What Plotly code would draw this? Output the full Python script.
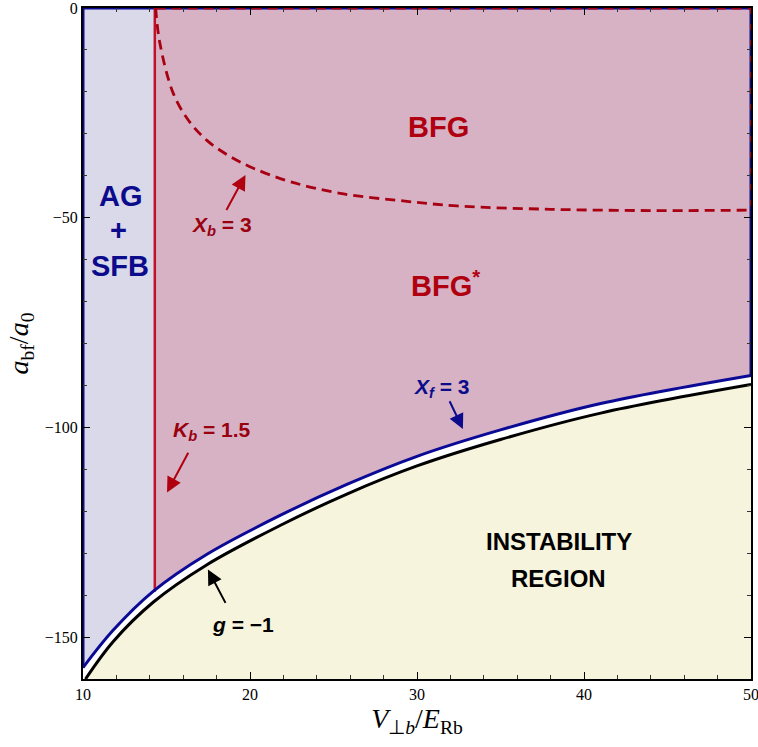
import plotly.graph_objects as go

# ---- axis ranges / ticks ----
X_MIN, X_MAX = 10, 50
Y_MIN, Y_MAX = -160, 0
x_major = [10, 20, 30, 40, 50]
x_major_text = ["10", "20", "30", "40", "50"]
y_major = [-150, -100, -50, 0]
y_major_text = ["\u2212150", "\u2212100", "\u221250", "0"]

# ---- curves ----
# X_f = 3 (blue)
xf_x = [10, 11.8, 14.2, 17.4, 21.8, 25.8, 30, 35, 41, 50]
xf_y = [-157.3, -148.4, -139.1, -130.3, -121.0, -113.6, -106.9, -100.6, -94.3, -87.6]
# g = -1 (black)
g_x = [10.15, 11.8, 14.2, 17.4, 21.8, 25.8, 30, 35, 41, 50]
g_y = [-160, -151.1, -141.7, -132.8, -123.4, -115.9, -109.2, -102.9, -96.6, -89.8]
# X_b = 3 (red dashed)
xb_x = [14.35, 14.6, 15.4, 16.3, 17.4, 18.8, 20.2, 22.4, 25.4, 29.4, 32.4, 38, 44, 50]
xb_y = [0, -8.3, -20.3, -26.7, -31.5, -35.4, -38.2, -41.4, -44.2, -46.1, -47.2, -48.0, -48.3, -48.2]
# K_b = 1.5 (red vertical)
kb_x = [14.3, 14.3]
kb_y = [0, -139.2]

C_PINK = "#d6b2c4"
C_LAV = "#dad9ea"
C_YEL = "#f6f4dc"
C_RED = "#c0102a"
C_DRED = "#a80012"
C_NAVY = "#0a0a96"
C_TNAVY = "#0b0b8c"

fig = go.Figure()

# lavender AG+SFB band
fig.add_trace(go.Scatter(x=[X_MIN, X_MIN, kb_x[0], kb_x[0]], y=[Y_MIN, Y_MAX, Y_MAX, Y_MIN],
                         fill="toself", fillcolor=C_LAV, mode="lines", line=dict(width=0),
                         hoverinfo="skip", showlegend=False))
# white below X_f curve
fig.add_trace(go.Scatter(x=[X_MIN, X_MAX], y=[Y_MIN, Y_MIN], mode="lines", line=dict(width=0),
                         hoverinfo="skip", showlegend=False))
fig.add_trace(go.Scatter(x=xf_x, y=xf_y, mode="lines", line=dict(width=0, shape="spline"),
                         fill="tonexty", fillcolor="white", hoverinfo="skip", showlegend=False))
# yellow instability region below g curve
fig.add_trace(go.Scatter(x=[X_MIN, X_MAX], y=[Y_MIN, Y_MIN], mode="lines", line=dict(width=0),
                         hoverinfo="skip", showlegend=False))
fig.add_trace(go.Scatter(x=g_x, y=g_y, mode="lines", line=dict(width=0, shape="spline"),
                         fill="tonexty", fillcolor=C_YEL, hoverinfo="skip", showlegend=False))

# boundary lines (contours running along the frame)
fig.add_trace(go.Scatter(x=[X_MIN, X_MIN], y=[xf_y[0], Y_MAX], mode="lines",
                         line=dict(color=C_NAVY, width=3), cliponaxis=False,
                         hoverinfo="skip", showlegend=False))
fig.add_trace(go.Scatter(x=[X_MIN, X_MAX], y=[Y_MAX, Y_MAX], mode="lines",
                         line=dict(color=C_NAVY, width=3), cliponaxis=False,
                         hoverinfo="skip", showlegend=False))
fig.add_trace(go.Scatter(x=[X_MAX, X_MAX], y=[xf_y[-1], Y_MAX], mode="lines",
                         line=dict(color=C_NAVY, width=3), cliponaxis=False,
                         hoverinfo="skip", showlegend=False))
fig.add_trace(go.Scatter(x=[xb_x[0], X_MAX], y=[Y_MAX, Y_MAX], mode="lines",
                         line=dict(color=C_DRED, width=3, dash="10px,6px"), cliponaxis=False,
                         hoverinfo="skip", showlegend=False))
fig.add_trace(go.Scatter(x=[X_MAX, X_MAX], y=[Y_MAX, xb_y[-1]], mode="lines",
                         line=dict(color=C_DRED, width=2, dash="6px,10px"), cliponaxis=False,
                         hoverinfo="skip", showlegend=False))

# main curves
fig.add_trace(go.Scatter(x=kb_x, y=kb_y, mode="lines", line=dict(color=C_RED, width=2.5),
                         hoverinfo="skip", showlegend=False))
fig.add_trace(go.Scatter(x=xb_x, y=xb_y, mode="lines",
                         line=dict(color=C_DRED, width=2.8, dash="10px,6px", shape="spline"),
                         hoverinfo="skip", showlegend=False))
fig.add_trace(go.Scatter(x=xf_x, y=xf_y, mode="lines",
                         line=dict(color=C_NAVY, width=3, shape="spline"),
                         hoverinfo="skip", showlegend=False))
fig.add_trace(go.Scatter(x=g_x, y=g_y, mode="lines",
                         line=dict(color="black", width=3, shape="spline"),
                         hoverinfo="skip", showlegend=False))

SANS = "Liberation Sans, Arial, sans-serif"
SERIF = "Liberation Serif, Times New Roman, serif"

def label(x, y, text, color, size):
    fig.add_annotation(x=x, y=y, text=text, showarrow=False, xref="x", yref="y",
                       font=dict(family=SANS, size=size, color=color),
                       xanchor="center", yanchor="middle")

def arrow(x0, y0, x1, y1, color):
    fig.add_annotation(x=x1, y=y1, ax=x0, ay=y0, xref="x", yref="y", axref="x", ayref="y",
                       text="", showarrow=True, arrowhead=2, arrowsize=1.5, arrowwidth=2,
                       arrowcolor=color)

label(31.31, -28.3, "<b>BFG</b>", "#b0000f", 29)
label(31.7, -65.8, "<b>BFG<sup>*</sup></b>", "#b0000f", 29)
label(12.25, -44.8, "<b>AG</b>", C_TNAVY, 29)
label(12.15, -52.9, "<b>+</b>", C_TNAVY, 29)
label(12.2, -61.6, "<b>SFB</b>", C_TNAVY, 29)
label(38.5, -127.3, "<b>INSTABILITY</b>", "black", 24)
label(38.5, -136.1, "<b>REGION</b>", "black", 24)

label(18.34, -52.1, "<b><i>X<sub>b</sub></i> = 3</b>", "#990010", 21)
arrow(18.54, -48.5, 19.73, -39.8, "#b0000f")
label(17.72, -100.9, "<b><i>K<sub>b</sub></i> = 1.5</b>", "#990010", 21)
arrow(16.35, -105.7, 15.03, -115.5, "#b0000f")
label(31.51, -90.6, "<b><i>X<sub>f</sub></i> = 3</b>", C_TNAVY, 21)
arrow(31.91, -93.4, 32.75, -100.4, C_TNAVY)
label(19.61, -147.0, "<b><i>g</i> = \u22121</b>", "black", 21)
arrow(18.58, -142.2, 17.48, -133.9, "black")

fig.update_xaxes(range=[X_MIN, X_MAX], tickvals=x_major, ticktext=x_major_text,
                 ticks="inside", ticklen=7, tickwidth=1.2, tickcolor="black",
                 minor=dict(dtick=2, ticks="inside", ticklen=4, tickcolor="#333", tickwidth=1, showgrid=False),
                 showline=True, linecolor="black", linewidth=2, mirror="ticks",
                 showgrid=False, zeroline=False, automargin=False, ticklabeloverflow="allow",
                 tickfont=dict(family=SERIF, size=16, color="black"),
                 title=dict(text="<i>V</i><sub>\u22a5<i>b</i></sub>/<i>E</i><sub>Rb</sub>",
                            font=dict(family=SERIF, size=28, color="black"), standoff=6))
fig.update_yaxes(range=[Y_MIN, Y_MAX], tickvals=y_major, ticktext=y_major_text,
                 ticks="inside", ticklen=7, tickwidth=1.2, tickcolor="black",
                 minor=dict(dtick=10, ticks="inside", ticklen=4, tickcolor="#333", tickwidth=1, showgrid=False),
                 showline=True, linecolor="black", linewidth=2, mirror="ticks",
                 showgrid=False, zeroline=False, automargin=False, ticklabeloverflow="allow",
                 tickfont=dict(family=SERIF, size=16, color="black"),
                 title=dict(text="<i>a</i><sub>bf</sub>/<i>a</i><sub>0</sub>",
                            font=dict(family=SERIF, size=28, color="black"), standoff=8))

fig.update_layout(width=758, height=747, margin=dict(l=83, r=7, t=8, b=68),
                  plot_bgcolor=C_PINK, paper_bgcolor="white", showlegend=False)

fig.write_html("out.html", config={"displayModeBar": False},
               post_script="document.body.style.margin='0px';")
